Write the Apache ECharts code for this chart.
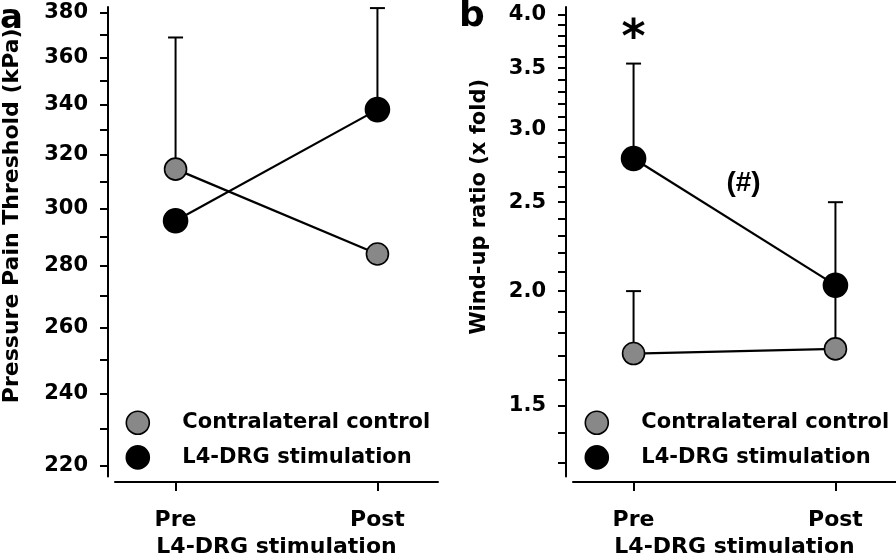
<!DOCTYPE html>
<html>
<head>
<meta charset="utf-8">
<script src="https://cdn.jsdelivr.net/npm/echarts@6/dist/echarts.min.js"></script>
<style>
html,body{margin:0;padding:0;background:#fff;}
#chart{width:896px;height:556px;}
</style>
</head>
<body>
<div id="chart"></div>
<script>
// ---- data ----
const categories = ['Pre', 'Post'];
const seriesNames = ['Contralateral control', 'L4-DRG stimulation'];

// panel a: pressure pain threshold (kPa)
const ppControl = [314.6, 284.0];
const ppStim = [295.6, 338.0];
const ppControlUpper = [368.7, null];
const ppStimUpper = [null, 382.0];
const ppTicks = [220, 230, 240, 250, 260, 270, 280, 290, 300, 310, 320, 330, 340, 350, 360, 370, 380];
const ppTickLabels = [220, 240, 260, 280, 300, 320, 340, 360, 380];
const ppRange = [217.2, 382.5];

// panel b: wind-up ratio (x fold)
const wuControl = [1.71, 1.73];
const wuStim = [2.79, 2.03];
const wuControlUpper = [2.0, 2.03];
const wuStimUpper = [3.54, 2.5];
const wuTicks = [1.3, 1.4, 1.5, 1.6, 1.7, 1.8, 1.9, 2.0, 2.1, 2.2, 2.3, 2.4, 2.5, 2.6, 2.7, 2.8, 2.9, 3.0, 3.1, 3.2, 3.3, 3.4, 3.5, 3.6, 3.7, 3.8, 3.9, 4.0];
const wuTickLabels = [1.5, 2.0, 2.5, 3.0, 3.5, 4.0];
const wuRange = [1.256, 4.08];

// annotations in panel b: [x index position, y value, text]
const annotB = [[0, 3.76, '*'], [0.545, 2.62, '(#)']];

// ---- chart ----
const FONT = 'DejaVu Sans';
const GRAY = '#888888';

function pts(vals) { return vals.map((v, i) => [i, v]); }
function errData(vals, upper) {
  const out = [];
  vals.forEach((v, i) => { if (upper[i] != null) out.push([i, v, upper[i]]); });
  return out;
}

function errSeries(idx, vals, upper) {
  return {
    type: 'custom', xAxisIndex: idx, yAxisIndex: idx, z: 1, silent: true,
    encode: { x: 0, y: [1, 2] },
    data: errData(vals, upper),
    renderItem: function (params, api) {
      const p0 = api.coord([api.value(0), api.value(1)]);
      const p1 = api.coord([api.value(0), api.value(2)]);
      const hw = 7.5;
      return {
        type: 'group',
        children: [
          { type: 'line', shape: { x1: p0[0], y1: p0[1], x2: p1[0], y2: p1[1] }, style: { stroke: '#000', lineWidth: 2 } },
          { type: 'line', shape: { x1: p1[0] - hw, y1: p1[1], x2: p1[0] + hw, y2: p1[1] }, style: { stroke: '#000', lineWidth: 2 } }
        ]
      };
    }
  };
}

function lineSeries(idx, name, vals, color, size, z) {
  return {
    type: 'line', name: name, xAxisIndex: idx, yAxisIndex: idx, z: z,
    data: pts(vals), symbol: 'circle', symbolSize: size, showSymbol: true,
    lineStyle: { color: '#000', width: 2.2 },
    itemStyle: { color: color, borderColor: '#000', borderWidth: 1.6 },
    emphasis: { disabled: true }
  };
}

function xAxis(idx) {
  return {
    type: 'value', gridIndex: idx, min: -0.3, max: 1.3, offset: 5.5,
    name: 'L4-DRG stimulation', nameLocation: 'middle', nameGap: 54,
    nameTextStyle: { fontFamily: FONT, fontWeight: 'bold', fontSize: 22, color: '#000' },
    axisLine: { show: true, onZero: false, lineStyle: { color: '#000', width: 2 } },
    axisTick: { show: true, customValues: [0, 1], length: 9, lineStyle: { color: '#000', width: 2 } },
    axisLabel: {
      show: true, customValues: [0, 1], margin: 27,
      formatter: v => categories[Math.round(v)],
      fontFamily: FONT, fontWeight: 'bold', fontSize: 22, color: '#000'
    },
    splitLine: { show: false }
  };
}

function yAxis(idx, range, ticks, labels, fmt, name, nameGap, shift, nameSize) {
  return {
    type: 'log', logBase: 10, gridIndex: idx, min: range[0], max: range[1], offset: 7,
    name: name, nameLocation: 'middle', nameGap: nameGap, nameRotate: 90,
    nameTextStyle: { fontFamily: FONT, fontWeight: 'bold', fontSize: nameSize, color: '#000', padding: [0, 0, 0, shift] },
    axisLine: { show: true, onZero: false, lineStyle: { color: '#000', width: 2 } },
    axisTick: { show: true, customValues: ticks, length: 8, lineStyle: { color: '#000', width: 2 } },
    axisLabel: {
      show: true, customValues: labels, margin: 20, formatter: fmt,
      fontFamily: FONT, fontWeight: 'bold', fontSize: 21, color: '#000'
    },
    splitLine: { show: false },
    minorTick: { show: false }
  };
}

function legend(left) {
  return {
    left: left, top: 405.5, orient: 'vertical', itemWidth: 23, itemHeight: 23, itemGap: 10,
    selectedMode: false,
    data: [
      { name: seriesNames[0], icon: 'circle', itemStyle: { color: GRAY, borderColor: '#000', borderWidth: 1.6 } },
      { name: seriesNames[1], icon: 'circle', itemStyle: { color: '#000', borderColor: '#000', borderWidth: 1.6 } }
    ],
    textStyle: { fontFamily: FONT, fontWeight: 'bold', fontSize: 21, color: '#000', lineHeight: 23, padding: [0, 0, 0, 28] }
  };
}

const option = {
  animation: false,
  backgroundColor: '#fff',
  title: [
    { text: 'a', left: 0, top: 2, padding: 0, textStyle: { fontFamily: FONT, fontWeight: 'bold', fontSize: 34, color: '#000' } },
    { text: 'b', left: 459, top: -1, padding: 0, textStyle: { fontFamily: FONT, fontWeight: 'bold', fontSize: 36, color: '#000' } }
  ],
  grid: [
    { left: 115, top: 7, width: 323, height: 469.5, outerBoundsMode: 'none', containLabel: false },
    { left: 573, top: 7, width: 323, height: 469.5, outerBoundsMode: 'none', containLabel: false }
  ],
  legend: [legend(120.5), legend(579.5)],
  xAxis: [xAxis(0), xAxis(1)],
  yAxis: [
    yAxis(0, ppRange, ppTicks, ppTickLabels, v => String(Math.round(v)), 'Pressure Pain Threshold (kPa)', 85, 52, 22),
    yAxis(1, wuRange, wuTicks, wuTickLabels, v => Number(v).toFixed(1), 'Wind-up ratio (x fold)', 76, 70, 21)
  ],
  series: [
    errSeries(0, ppControl, ppControlUpper),
    errSeries(0, ppStim, ppStimUpper),
    lineSeries(0, seriesNames[0], ppControl, GRAY, 22, 2),
    lineSeries(0, seriesNames[1], ppStim, '#000', 24, 3),
    errSeries(1, wuControl, wuControlUpper),
    errSeries(1, wuStim, wuStimUpper),
    lineSeries(1, seriesNames[0], wuControl, GRAY, 22, 2),
    lineSeries(1, seriesNames[1], wuStim, '#000', 24, 3),
    {
      type: 'custom', xAxisIndex: 1, yAxisIndex: 1, z: 5, silent: true,
      encode: { x: 0, y: 1 },
      data: annotB.map(a => [a[0], a[1]]),
      renderItem: function (params, api) {
        const p = api.coord([api.value(0), api.value(1)]);
        const txt = annotB[params.dataIndex][2];
        return {
          type: 'text', x: p[0], y: p[1],
          style: {
            text: txt, fill: '#000', align: 'center', verticalAlign: 'middle',
            font: txt === '*' ? 'bold 46px "DejaVu Sans"' : 'bold 28px "Liberation Sans"'
          }
        };
      }
    }
  ]
};

const chart = echarts.init(document.getElementById('chart'), null, { renderer: 'canvas' });
chart.setOption(option);
</script>
</body>
</html>
